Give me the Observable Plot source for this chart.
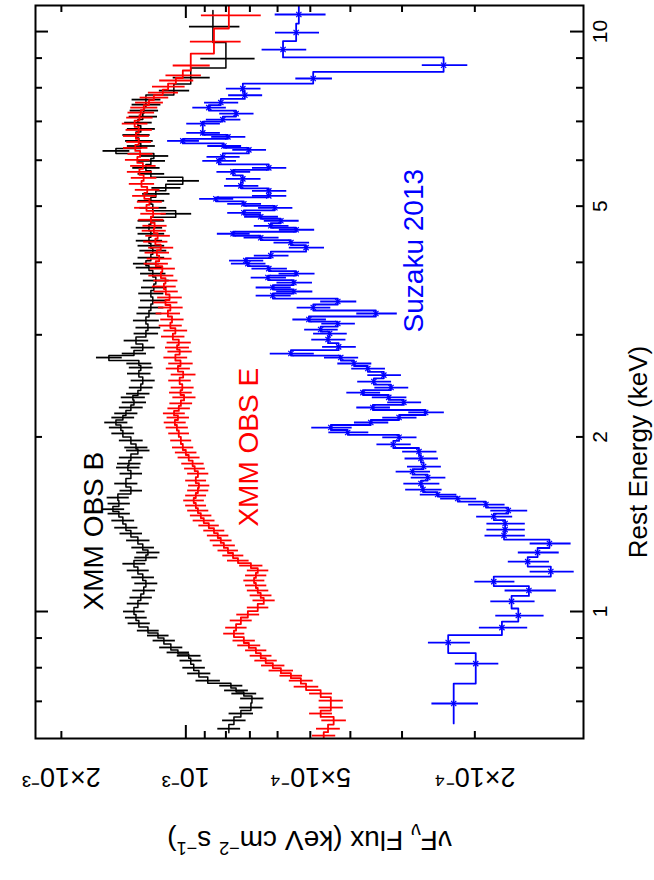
<!DOCTYPE html>
<html><head><meta charset="utf-8">
<script src="https://cdn.jsdelivr.net/npm/d3@7"></script>
<script src="https://cdn.jsdelivr.net/npm/@observablehq/plot@0.6"></script>
<style>
html,body{margin:0;padding:0;background:#fff;}
#chart svg{display:block;}
</style>
</head><body><div id="chart"></div>
<script>
// ---- Data (energy in keV, flux in units of 1e-3 keV cm^-2 s^-1) ----
// XMM OBS B (black)
const energyB = [0.628,0.649,0.667,0.683,0.708,0.722,0.731,0.745,0.760,0.782,0.800,0.823,0.839,0.850,0.867,0.891,0.909,0.927,0.954,0.976,1.000,1.032,1.057,1.087,1.118,1.145,1.177,1.209,1.239,1.264,1.289,1.326,1.363,1.395,1.435,1.475,1.501,1.535,1.572,1.616,1.662,1.729,1.771,1.799,1.843,1.895,1.918,1.972,2.028,2.076,2.118,2.160,2.196,2.248,2.294,2.340,2.375,2.433,2.502,2.572,2.634,2.677,2.741,2.785,2.852,2.932,3.015,3.087,3.175,3.265,3.343,3.438,3.535,3.620,3.721,3.825,3.917,3.979,4.075,4.190,4.273,4.359,4.481,4.589,4.718,4.851,4.967,5.107,5.250,5.376,5.528,5.684,5.820,5.984,6.102,6.226,6.349,6.478,6.632,6.794,6.966,7.134,7.307,7.482,7.633,7.91,8.33,8.98,10.2];
const fluxB = [0.787,0.765,0.736,0.696,0.692,0.724,0.756,0.778,0.885,0.930,0.957,0.973,0.984,1.045,1.087,1.130,1.168,1.235,1.299,1.320,1.335,1.306,1.285,1.264,1.249,1.271,1.306,1.335,1.249,1.235,1.271,1.306,1.358,1.396,1.420,1.452,1.501,1.452,1.460,1.358,1.396,1.358,1.381,1.373,1.358,1.306,1.320,1.358,1.420,1.436,1.476,1.420,1.396,1.358,1.335,1.343,1.306,1.285,1.271,1.299,1.285,1.299,1.535,1.335,1.271,1.320,1.249,1.235,1.249,1.228,1.215,1.202,1.215,1.195,1.182,1.202,1.228,1.249,1.215,1.202,1.215,1.228,1.215,1.228,1.215,1.058,1.202,1.215,1.182,1.118,1.017,1.215,1.249,1.215,1.195,1.476,1.285,1.299,1.320,1.285,1.306,1.271,1.264,1.249,1.249,1.069,0.973,0.800,0.860];
const errB = [0.05,0.05,0.05,0.045,0.045,0.05,0.05,0.05,0.06,0.06,0.06,0.06,0.065,0.065,0.07,0.07,0.07,0.075,0.08,0.08,0.08,0.08,0.08,0.08,0.08,0.08,0.08,0.085,0.08,0.08,0.08,0.085,0.085,0.09,0.09,0.09,0.095,0.09,0.09,0.085,0.09,0.085,0.09,0.09,0.09,0.085,0.085,0.09,0.09,0.095,0.095,0.09,0.09,0.09,0.09,0.09,0.085,0.085,0.085,0.085,0.085,0.09,0.11,0.09,0.085,0.09,0.085,0.085,0.09,0.085,0.085,0.085,0.085,0.085,0.085,0.085,0.09,0.09,0.09,0.09,0.09,0.09,0.09,0.09,0.09,0.09,0.09,0.09,0.09,0.09,0.09,0.09,0.095,0.095,0.095,0.11,0.1,0.1,0.1,0.1,0.1,0.1,0.1,0.1,0.1,0.09,0.1,0.12,0.12];

// XMM OBS E (red)
const energyE = [0.611,0.628,0.649,0.667,0.683,0.702,0.722,0.742,0.760,0.775,0.791,0.807,0.823,0.839,0.857,0.874,0.891,0.916,0.938,0.965,0.988,1.016,1.045,1.066,1.087,1.109,1.131,1.154,1.177,1.200,1.224,1.249,1.274,1.300,1.326,1.352,1.379,1.407,1.435,1.464,1.493,1.523,1.554,1.585,1.617,1.649,1.682,1.729,1.764,1.799,1.843,1.880,1.918,1.972,2.028,2.076,2.118,2.160,2.196,2.240,2.285,2.340,2.385,2.433,2.502,2.562,2.624,2.677,2.741,2.807,2.852,2.909,2.979,3.051,3.112,3.188,3.265,3.343,3.411,3.479,3.563,3.634,3.721,3.795,3.902,3.979,4.059,4.157,4.240,4.342,4.445,4.535,4.625,4.737,4.851,4.967,5.087,5.208,5.334,5.462,5.594,5.729,5.866,6.008,6.152,6.301,6.452,6.606,6.767,6.938,7.106,7.249,7.394,7.543,7.694,7.847,8.037,8.234,8.40,8.74,9.61,10.66];
const fluxE = [0.464,0.453,0.439,0.472,0.446,0.446,0.472,0.512,0.527,0.557,0.589,0.616,0.641,0.659,0.677,0.704,0.724,0.765,0.756,0.736,0.708,0.670,0.648,0.659,0.670,0.677,0.684,0.677,0.670,0.696,0.748,0.769,0.791,0.809,0.823,0.837,0.855,0.880,0.905,0.920,0.935,0.946,0.957,0.946,0.935,0.930,0.946,0.935,0.952,0.963,0.984,1.000,1.017,1.028,1.040,1.051,1.063,1.045,1.068,1.040,1.028,1.010,1.030,1.020,1.035,1.015,1.045,1.030,1.060,1.035,1.050,1.040,1.075,1.060,1.090,1.080,1.105,1.090,1.120,1.095,1.118,1.130,1.120,1.149,1.140,1.182,1.160,1.175,1.150,1.185,1.170,1.195,1.190,1.215,1.200,1.245,1.225,1.260,1.240,1.280,1.265,1.295,1.270,1.310,1.290,1.325,1.300,1.320,1.300,1.330,1.295,1.285,1.264,1.228,1.195,1.137,1.104,1.057,1.017,0.973,0.855,0.787];
const errE = [0.03,0.03,0.03,0.03,0.03,0.03,0.03,0.035,0.035,0.035,0.04,0.04,0.04,0.04,0.04,0.045,0.045,0.045,0.045,0.045,0.045,0.04,0.04,0.04,0.04,0.04,0.04,0.04,0.04,0.045,0.045,0.045,0.045,0.05,0.05,0.05,0.05,0.05,0.055,0.055,0.055,0.055,0.055,0.055,0.055,0.055,0.055,0.055,0.055,0.06,0.06,0.06,0.06,0.06,0.06,0.065,0.065,0.065,0.065,0.065,0.065,0.065,0.065,0.065,0.065,0.07,0.07,0.07,0.07,0.07,0.07,0.07,0.07,0.07,0.07,0.07,0.075,0.075,0.075,0.075,0.075,0.075,0.075,0.08,0.08,0.08,0.08,0.08,0.08,0.08,0.08,0.08,0.08,0.085,0.085,0.085,0.085,0.085,0.085,0.09,0.09,0.09,0.09,0.09,0.09,0.09,0.09,0.095,0.095,0.095,0.095,0.095,0.095,0.095,0.095,0.095,0.1,0.1,0.1,0.1,0.12,0.13];

// Suzaku 2013 (blue)
const energyS = [0.694,0.813,0.884,0.938,0.984,1.041,1.087,1.126,1.172,1.219,1.264,1.310,1.352,1.384,1.418,1.458,1.493,1.529,1.566,1.591,1.623,1.662,1.702,1.743,1.778,1.836,1.887,1.941,1.997,2.036,2.076,2.118,2.160,2.204,2.248,2.294,2.340,2.385,2.433,2.492,2.556,2.624,2.677,2.741,2.785,2.860,2.944,3.015,3.063,3.137,3.188,3.265,3.343,3.424,3.506,3.563,3.620,3.691,3.766,3.825,3.902,3.979,4.027,4.108,4.240,4.325,4.411,4.481,4.553,4.625,4.718,4.794,4.870,4.967,5.046,5.148,5.208,5.313,5.419,5.572,5.729,5.820,5.984,6.078,6.251,6.349,6.478,6.582,6.687,6.938,7.050,7.220,7.394,7.543,7.766,7.973,8.299,8.75,9.31,9.96,10.7];
const fluxS = [0.225,0.199,0.232,0.172,0.157,0.163,0.148,0.180,0.131,0.149,0.141,0.132,0.170,0.169,0.169,0.180,0.166,0.188,0.220,0.246,0.267,0.270,0.260,0.283,0.266,0.270,0.273,0.315,0.305,0.406,0.446,0.357,0.305,0.263,0.353,0.297,0.323,0.373,0.319,0.351,0.332,0.363,0.392,0.422,0.557,0.427,0.453,0.449,0.472,0.429,0.504,0.347,0.492,0.429,0.616,0.548,0.616,0.548,0.633,0.541,0.630,0.708,0.716,0.623,0.512,0.557,0.659,0.769,0.541,0.623,0.589,0.659,0.724,0.609,0.724,0.846,0.630,0.630,0.736,0.728,0.769,0.630,0.832,0.814,0.704,0.809,1.017,0.791,0.910,0.910,0.814,0.756,0.880,0.823,0.720,0.728,0.492,0.238,0.582,0.541,0.533];
const errS = [0.029,0.024,0.027,0.023,0.021,0.020,0.021,0.020,0.016,0.017,0.016,0.015,0.019,0.018,0.018,0.018,0.017,0.019,0.022,0.025,0.027,0.027,0.025,0.027,0.025,0.025,0.026,0.030,0.029,0.045,0.050,0.034,0.029,0.026,0.033,0.028,0.031,0.035,0.030,0.033,0.031,0.034,0.037,0.040,0.068,0.040,0.043,0.042,0.044,0.040,0.047,0.039,0.046,0.043,0.060,0.055,0.060,0.054,0.062,0.054,0.062,0.068,0.068,0.060,0.050,0.055,0.064,0.070,0.053,0.060,0.057,0.062,0.068,0.058,0.068,0.080,0.060,0.060,0.070,0.070,0.072,0.060,0.078,0.075,0.066,0.076,0.090,0.075,0.085,0.085,0.078,0.072,0.082,0.078,0.068,0.070,0.050,0.030,0.072,0.066,0.075];

// Axis ticks and labels
const fluxTicks = [0.2,0.3,0.4,0.5,0.6,0.7,0.8,0.9,1,2];
const fluxMajor = [1];
const fluxLabelValues = [2,1,0.5,0.2];
const fluxLabels = ["2×10⁻³","10⁻³","5×10⁻⁴","2×10⁻⁴"];
const energyTicks = [0.7,0.8,0.9,1,2,3,4,5,6,7,8,9,10];
const energyMajor = [1,10];
const energyLabelValues = [1,2,5,10];
const energyLabels = ["1","2","5","10"];

const seriesLabels = [
  {text:"XMM OBS B", flux:1.669, energy:1.376, color:"#000000"},
  {text:"XMM OBS E", flux:0.704, energy:1.92, color:"#ff0000"},
  {text:"Suzaku 2013", flux:0.281, energy:4.19, color:"#0000ff"}
];
const xTitle = "Rest Energy (keV)";
const xTitleAt = 1.884;   // energy at the middle of the title
const yTitle = "νFν Flux (keV cm-2 s-1)";

// ---- build step and error rows ----
function build(energy, flux, err) {
  const n = energy.length;
  const edges = [];
  for (let i = 0; i <= n; i++) {
    if (i === 0) edges.push(energy[0] * energy[0] / Math.sqrt(energy[0] * energy[1]));
    else if (i === n) edges.push(energy[n-1] * energy[n-1] / Math.sqrt(energy[n-2] * energy[n-1]));
    else edges.push(Math.sqrt(energy[i-1] * energy[i]));
  }
  const steps = [];
  const bars = [];
  for (let i = 0; i < n; i++) {
    steps.push({e: edges[i], f: flux[i]});
    steps.push({e: edges[i+1], f: flux[i]});
    bars.push({e: energy[i], f: flux[i], lo: flux[i] - err[i], hi: flux[i] + err[i]});
  }
  return {steps, bars};
}
const B = build(energyB, fluxB, errB);
const E = build(energyE, fluxE, errE);
const S = build(energyS, fluxS, errS);

const W = 654, H = 880, mL = 35, mR = 71, mT = 5, mB = 142;
const innerW = W - mL - mR, innerH = H - mT - mB;
const LONG = 13, SHORT = 7;
const font = "'Liberation Sans', Arial, Helvetica, sans-serif";
const mid = {textAnchor: "middle", lineAnchor: "middle"};

const chart = Plot.plot({
  width: W, height: H,
  marginLeft: mL, marginRight: mR, marginTop: mT, marginBottom: mB,
  x: {type: "log", domain: [2.31, 0.1092], axis: null},
  y: {type: "log", domain: [0.604, 11.09], axis: null},
  style: {fontFamily: font, background: "white", color: "black", overflow: "visible"},
  marks: [
    Plot.line(B.steps, {x: "f", y: "e", stroke: "#000000", strokeWidth: 1.5, clip: true}),
    Plot.ruleY(B.bars, {y: "e", x1: "lo", x2: "hi", stroke: "#000000", strokeWidth: 1.8, clip: true}),
    Plot.line(E.steps, {x: "f", y: "e", stroke: "#ff0000", strokeWidth: 1.8, clip: true}),
    Plot.ruleY(E.bars, {y: "e", x1: "lo", x2: "hi", stroke: "#ff0000", strokeWidth: 1.8, clip: true}),
    Plot.line(S.steps, {x: "f", y: "e", stroke: "#0000ff", strokeWidth: 1.8, clip: true}),
    Plot.ruleY(S.bars, {y: "e", x1: "lo", x2: "hi", stroke: "#0000ff", strokeWidth: 1.8, clip: true}),
    Plot.dot(S.bars, {x: "f", y: "e", symbol: "times", r: 2.5, stroke: "#0000ff", strokeWidth: 1.2, clip: true}),
    Plot.frame({stroke: "black", strokeWidth: 2}),
    // inward ticks: bottom / top
    Plot.tickX(fluxTicks.filter(d => !fluxMajor.includes(d)), {x: d => d, insetTop: innerH - SHORT, strokeWidth: 2}),
    Plot.tickX(fluxMajor, {x: d => d, insetTop: innerH - LONG, strokeWidth: 2}),
    Plot.tickX(fluxTicks.filter(d => !fluxMajor.includes(d)), {x: d => d, insetBottom: innerH - SHORT, strokeWidth: 2}),
    Plot.tickX(fluxMajor, {x: d => d, insetBottom: innerH - LONG, strokeWidth: 2}),
    // inward ticks: left / right
    Plot.tickY(energyTicks.filter(d => !energyMajor.includes(d)), {y: d => d, insetRight: innerW - SHORT, strokeWidth: 2}),
    Plot.tickY(energyMajor, {y: d => d, insetRight: innerW - LONG, strokeWidth: 2}),
    Plot.tickY(energyTicks.filter(d => !energyMajor.includes(d)), {y: d => d, insetLeft: innerW - SHORT, strokeWidth: 2}),
    Plot.tickY(energyMajor, {y: d => d, insetLeft: innerW - LONG, strokeWidth: 2}),
    // tick labels
    Plot.text(fluxLabelValues, {x: d => d, text: (d, i) => fluxLabels[i], frameAnchor: "bottom", dy: 38, rotate: 180, fontSize: 27, fill: "black", ...mid}),
    Plot.text(energyLabelValues, {y: d => d, text: (d, i) => energyLabels[i], frameAnchor: "right", dx: 17, rotate: -90, fontSize: 21, fill: "black", ...mid}),
    // axis titles
    Plot.text([xTitle], {y: () => xTitleAt, text: d => d, frameAnchor: "right", dx: 55, rotate: -90, fontSize: 26, fill: "black", ...mid}),
    Plot.text([yTitle], {text: d => d, frameAnchor: "bottom", dy: 101, rotate: 180, fontSize: 28, fill: "black", ...mid}),
    // series labels
    Plot.text(seriesLabels, {x: "flux", y: "energy", text: "text", fill: "color", rotate: -90, fontSize: 28, ...mid})
  ]
});

// Rich formatting for the flux title (subscript / superscripts)
const svg = d3.select(chart);
svg.selectAll("text").each(function() {
  if (this.textContent === yTitle) {
    const t = d3.select(this);
    t.text(null);
    const parts = [
      ["νF", 0, null], ["ν", 7, "70%"], [" Flux (keV cm", -7, null],
      ["−2", -11, "65%"], [" s", 11, null], ["−1", -11, "65%"], [")", 11, null]
    ];
    for (const [s, dy, fs] of parts) {
      const sp = t.append("tspan").text(s);
      if (dy) sp.attr("dy", dy);
      if (fs) sp.attr("font-size", fs);
    }
  }
});
document.getElementById("chart").appendChild(chart);
</script>
</body></html>
